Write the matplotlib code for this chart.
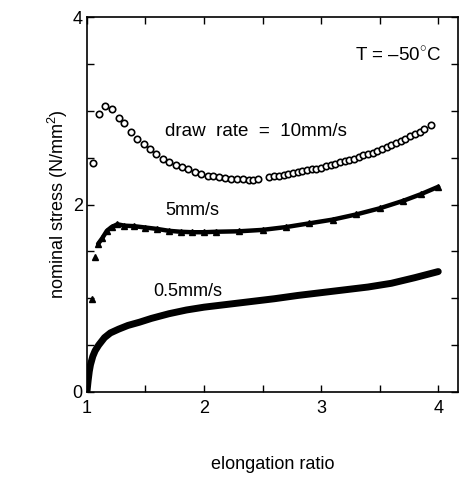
import matplotlib
matplotlib.use("Agg")
import matplotlib.pyplot as plt
from matplotlib.ticker import MultipleLocator

plt.rcParams['font.family'] = ['Liberation Sans', 'DejaVu Sans']
plt.rcParams['mathtext.fontset'] = 'custom'
plt.rcParams['mathtext.rm'] = 'Liberation Sans'

# 10 mm/s (open circles)
x10 = [1.054, 1.103, 1.157, 1.216, 1.27, 1.32, 1.373, 1.43, 1.485, 1.54, 1.59, 1.65,
       1.70, 1.758, 1.81, 1.866, 1.92, 1.977, 2.03, 2.08, 2.13, 2.18, 2.23, 2.28,
       2.33, 2.38, 2.42, 2.464,
       2.558, 2.60, 2.64, 2.68, 2.72, 2.76, 2.80, 2.84, 2.88, 2.92, 2.96, 3.00,
       3.04, 3.08, 3.12, 3.16, 3.20, 3.24, 3.28, 3.32, 3.36, 3.40, 3.44, 3.48,
       3.52, 3.56, 3.60, 3.64, 3.68, 3.72, 3.76, 3.80, 3.84, 3.88, 3.94]
y10 = [2.446, 2.965, 3.05, 3.02, 2.92, 2.87, 2.777, 2.695, 2.645, 2.595, 2.54, 2.485,
       2.456, 2.42, 2.40, 2.375, 2.35, 2.33, 2.31, 2.30, 2.29, 2.28, 2.275, 2.27,
       2.27, 2.265, 2.265, 2.27,
       2.297, 2.30, 2.31, 2.32, 2.325, 2.335, 2.345, 2.355, 2.365, 2.375, 2.385, 2.395,
       2.41, 2.42, 2.435, 2.45, 2.46, 2.475, 2.49, 2.505, 2.525, 2.54, 2.555, 2.57,
       2.59, 2.61, 2.635, 2.66, 2.68, 2.705, 2.73, 2.755, 2.78, 2.805, 2.85]

# 5 mm/s (triangles)
x5 = [1.04, 1.07, 1.095, 1.13, 1.17, 1.21, 1.26, 1.32, 1.40, 1.50, 1.60, 1.70, 1.80,
      1.90, 2.00, 2.10, 2.30, 2.50, 2.70, 2.90, 3.10, 3.30, 3.50, 3.70, 3.85, 4.00]
y5 = [0.99, 1.44, 1.58, 1.64, 1.72, 1.76, 1.79, 1.775, 1.77, 1.755, 1.74, 1.72, 1.71,
      1.705, 1.705, 1.71, 1.715, 1.73, 1.76, 1.80, 1.84, 1.895, 1.96, 2.04, 2.11, 2.19]

# 0.5 mm/s (thick line)
x05 = [1.0, 1.01, 1.02, 1.03, 1.05, 1.07, 1.10, 1.15, 1.20, 1.27, 1.35, 1.45, 1.55,
       1.70, 1.85, 2.00, 2.20, 2.40, 2.60, 2.80, 3.00, 3.20, 3.40, 3.60, 3.80, 4.00]
y05 = [0.0, 0.12, 0.22, 0.29, 0.38, 0.44, 0.50, 0.58, 0.63, 0.67, 0.71, 0.745, 0.785,
       0.835, 0.875, 0.905, 0.935, 0.965, 0.995, 1.03, 1.06, 1.09, 1.12, 1.16, 1.22, 1.285]

xticks = [1, 2, 3, 4]
yticks = [0, 2, 4]

fig = plt.figure(figsize=(4.6, 4.78), dpi=100)
ax = fig.add_axes([0.189, 0.180, 0.807, 0.784])

ax.plot(x05, y05, color='black', lw=5.0, solid_capstyle='round', solid_joinstyle='round')
ax.plot(x5[2:], y5[2:], color='black', lw=3.2, solid_capstyle='round')
ax.plot(x5, y5, ls='none', marker='^', ms=4, color='black', mfc='black')
ax.plot(x10, y10, ls='none', marker='o', ms=4.6, mfc='white', mec='black', mew=1.2)

ax.set_xlim(1, 4.17)
ax.set_ylim(0, 4)
ax.set_xticks(xticks)
ax.set_yticks(yticks)
ax.xaxis.set_minor_locator(MultipleLocator(0.5))
ax.yaxis.set_minor_locator(MultipleLocator(0.5))
ax.tick_params(which='both', direction='in', top=True, right=True, labelsize=13,
               length=5, width=1)
ax.tick_params(axis='x', pad=6)
ax.tick_params(axis='y', pad=3)
for s in ax.spines.values():
    s.set_linewidth(1.2)

ax.set_xlabel('elongation ratio', fontsize=13, labelpad=28)
ax.set_ylabel(r'nominal stress (N/mm$^{2}$)', fontsize=13, labelpad=2)

ax.text(1.67, 2.78, 'draw  rate  =  10mm/s', fontsize=13.5, va='center', ha='left')
ax.text(1.67, 1.94, '5mm/s', fontsize=13, va='center', ha='left')
ax.text(1.565, 1.07, '0.5mm/s', fontsize=13, va='center', ha='left')
ax.text(3.29, 3.6, 'T = \u201350$^{\\circ}$C', fontsize=13.5, va='center', ha='left')

fig.savefig('out.png', dpi=100)
